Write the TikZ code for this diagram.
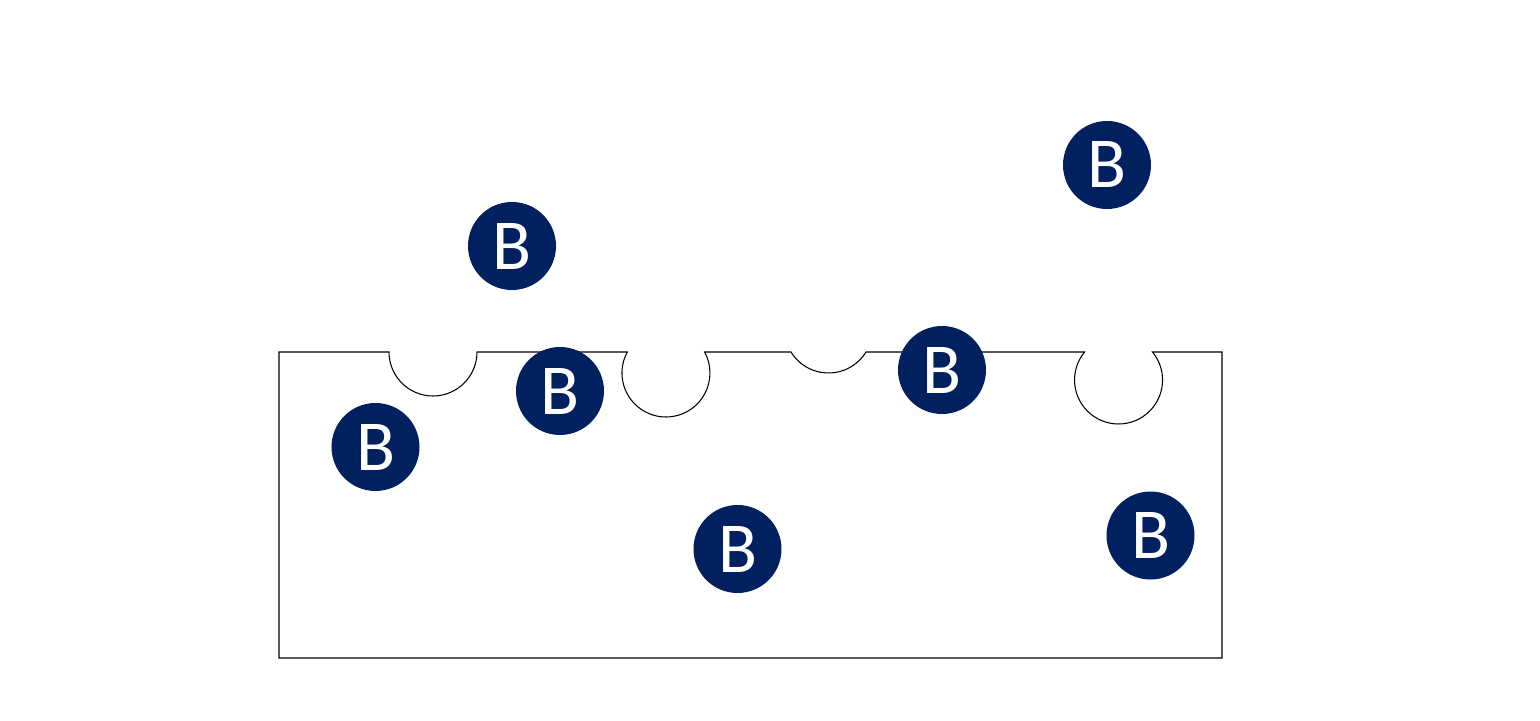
\documentclass[tikz,border=0pt]{standalone}
\usepackage{fontspec}
\usepackage{tikz}
\newfontfamily\ballfont{Carlito}
\definecolor{ballnavy}{HTML}{002060}

\begin{document}
\begin{tikzpicture}[x=0.25mm, y=0.25mm,
    ball/.style={circle, fill=ballnavy, text=white, inner sep=0pt,
      minimum size=22mm, font=\ballfont\fontsize{51}{51}\selectfont}]
  \useasboundingbox (0,0) rectangle (1540,720);
  \draw[line width=0.75pt]
    (279,368) -- (389,368) arc[start angle=180, end angle=360, radius=44]
    -- (627.3,368) arc[start angle=151.5, end angle=388.5, radius=44]
    -- (791,368) arc[start angle=211.5, end angle=328.5, radius=44]
    -- (1084.6,368) arc[start angle=140.5, end angle=399.5, radius=44]
    -- (1222,368) -- (1222,62) -- (279,62) -- cycle;
  \node[ball] (ballA) at (512,474) {B};
  \node[ball] (ballB) at (1107,555) {B};
  \node[ball] (ballC) at (560,329) {B};
  \node[ball] (ballD) at (375.5,273) {B};
  \node[ball] (ballE) at (942,350) {B};
  \node[ball] (ballF) at (737.5,171) {B};
  \node[ball] (ballG) at (1150.5,184.5) {B};
\end{tikzpicture}
\end{document}
